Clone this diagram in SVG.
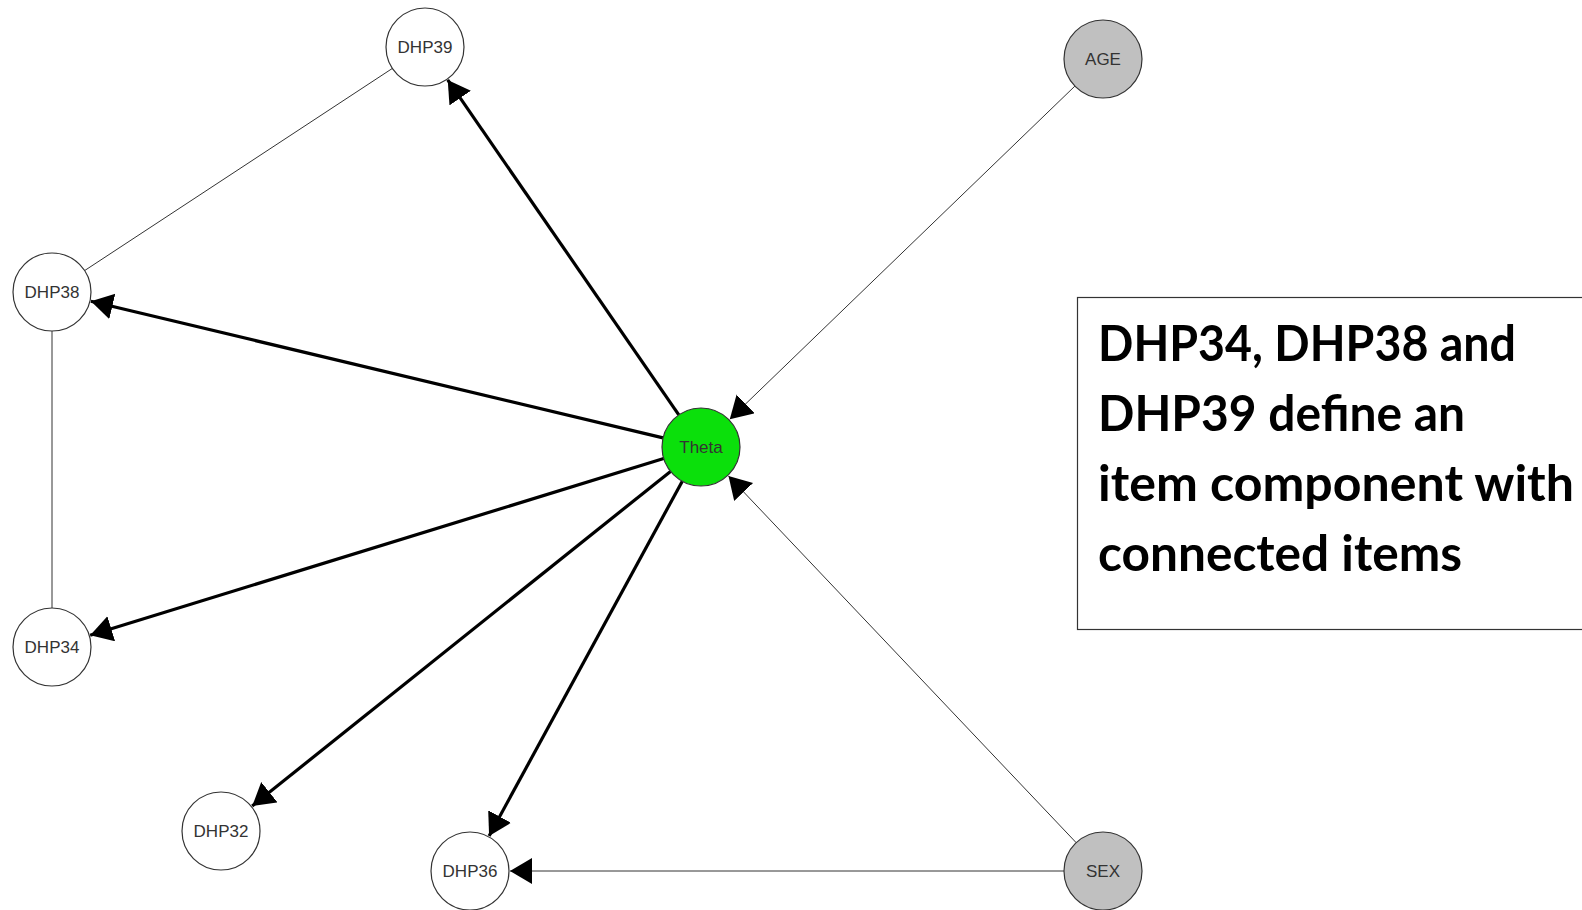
<svg xmlns="http://www.w3.org/2000/svg" width="1582" height="910" viewBox="0 0 1582 910">
<style>
.node{stroke:#333;stroke-width:1.2}
.item{fill:#fff}
.cov{fill:#c0c0c0}
.theta{fill:#0be00b}
.lbl{font-family:"Liberation Sans",Arial,sans-serif;font-size:17px;fill:#333;text-anchor:middle;dominant-baseline:central}
.thick{stroke:#000;stroke-width:3.2;fill:none}
.thin{stroke:#333;stroke-width:1;fill:none}
.note{font-family:Lato,"Open Sans",sans-serif;font-weight:bold;font-size:50px;fill:#000}
</style>
<defs>
<marker id="arr" markerUnits="userSpaceOnUse" markerWidth="24" markerHeight="28" refX="22" refY="13" orient="auto">
<path d="M0,0 L22,13 L0,26 Z" fill="#000"/>
</marker>
</defs>
<rect width="1582" height="910" fill="#fff"/>
<g id="connectors">
<line class="thin" x1="392.4" y1="68.4" x2="84.6" y2="270.6"/>
<line class="thin" x1="52" y1="331" x2="52" y2="608"/>
<line class="thick" x1="678.8" y1="414.9" x2="447.7" y2="79.9" marker-end="url(#arr)"/>
<line class="thick" x1="663.1" y1="437.9" x2="90.9" y2="301.3" marker-end="url(#arr)"/>
<line class="thick" x1="663.7" y1="458.5" x2="90.2" y2="635.2" marker-end="url(#arr)"/>
<line class="thick" x1="670.5" y1="471.4" x2="252.2" y2="806.0" marker-end="url(#arr)"/>
<line class="thick" x1="682.3" y1="481.2" x2="489.1" y2="835.9" marker-end="url(#arr)"/>
<line class="thin" x1="1074.9" y1="86.1" x2="729.8" y2="419.2" marker-end="url(#arr)"/>
<line class="thin" x1="1076.2" y1="842.7" x2="728.5" y2="476.0" marker-end="url(#arr)"/>
<line class="thin" x1="1064" y1="871" x2="510" y2="871" marker-end="url(#arr)"/>
</g>
<g id="node-DHP39"><circle class="node item" cx="425" cy="47" r="39"/><text class="lbl" x="425" y="47">DHP39</text></g>
<g id="node-DHP38"><circle class="node item" cx="52" cy="292" r="39"/><text class="lbl" x="52" y="292">DHP38</text></g>
<g id="node-DHP34"><circle class="node item" cx="52" cy="647" r="39"/><text class="lbl" x="52" y="647">DHP34</text></g>
<g id="node-DHP32"><circle class="node item" cx="221" cy="831" r="39"/><text class="lbl" x="221" y="831">DHP32</text></g>
<g id="node-DHP36"><circle class="node item" cx="470" cy="871" r="39"/><text class="lbl" x="470" y="871">DHP36</text></g>
<g id="node-Theta"><circle class="node theta" cx="701" cy="447" r="39"/><text class="lbl" x="701" y="447">Theta</text></g>
<g id="node-AGE"><circle class="node cov" cx="1103" cy="59" r="39"/><text class="lbl" x="1103" y="59">AGE</text></g>
<g id="node-SEX"><circle class="node cov" cx="1103" cy="871" r="39"/><text class="lbl" x="1103" y="871">SEX</text></g>
<g id="note">
<rect x="1077.5" y="297.5" width="520" height="332" fill="#fff" stroke="#333" stroke-width="1.2"/>
<text class="note" x="1098" y="361" textLength="418" lengthAdjust="spacingAndGlyphs">DHP34, DHP38 and</text>
<text class="note" x="1098" y="431" textLength="367" lengthAdjust="spacingAndGlyphs">DHP39 define an</text>
<text class="note" x="1098" y="501" textLength="476" lengthAdjust="spacingAndGlyphs">item component with</text>
<text class="note" x="1098" y="571" textLength="364" lengthAdjust="spacingAndGlyphs">connected items</text>
</g>
</svg>
